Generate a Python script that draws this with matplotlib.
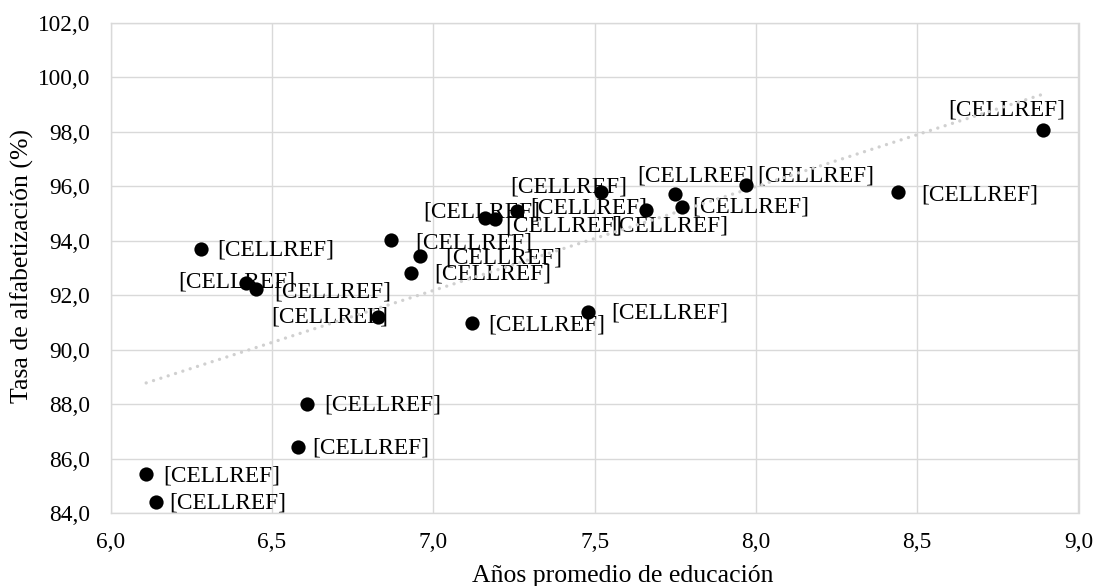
import numpy as np
import matplotlib
matplotlib.use("Agg")
import matplotlib.pyplot as plt
from matplotlib.ticker import FuncFormatter, MultipleLocator

plt.rcParams['font.family'] = ['Liberation Serif', 'DejaVu Serif']

# Data
years_edu = [6.11, 6.14, 6.28, 6.42, 6.45, 6.58, 6.61, 6.83, 6.87, 6.93, 6.96, 7.12,
             7.16, 7.19, 7.26, 7.48, 7.52, 7.66, 7.75, 7.77, 7.97, 8.44, 8.89]
literacy = [85.43, 84.43, 93.70, 92.44, 92.22, 86.42, 88.01, 91.21, 94.03, 92.83, 93.44, 90.97,
            94.83, 94.80, 95.09, 91.38, 95.80, 95.12, 95.71, 95.23, 96.05, 95.78, 98.07]
point_labels = ["[CELLREF]"] * len(years_edu)

x_label = "Años promedio de educación"
y_label = "Tasa de alfabetización (%)"

# Label placement (pixel offsets of label centre from point)
label_offsets = [(76, -2), (72, -1), (75, -1), (-9, 1), (77, -3), (73, -1), (75, -1),
                 (-49, 0), (82, -3), (82, -1), (83, -2), (75, -2), (-3, 6), (69, -7),
                 (72, 3), (82, -1), (-32, 5), (24, -16), (21, 18), (69, 0), (70, 9),
                 (82, -3), (-36, 20)]

W, H = 1098, 586
fig = plt.figure(figsize=(W / 100, H / 100), dpi=100)
left, right, top, bottom = 110.7, 1078.5, 22.8, 513.3
ax = fig.add_axes([left / W, 1 - bottom / H, (right - left) / W, (bottom - top) / H])

grid_c = '#d9d9d9'
ax.set_xlim(6.0, 9.0)
ax.set_ylim(84.0, 102.0)
ax.xaxis.set_major_locator(MultipleLocator(0.5))
ax.yaxis.set_major_locator(MultipleLocator(2.0))
fmt = FuncFormatter(lambda v, p: f"{v:.1f}".replace('.', ','))
ax.xaxis.set_major_formatter(fmt)
ax.yaxis.set_major_formatter(fmt)
ax.grid(True, color=grid_c, linewidth=1.0, zorder=0)
ax.set_axisbelow(True)
for s in ax.spines.values():
    s.set_color(grid_c)
    s.set_linewidth(1.0)
ax.tick_params(axis='both', length=0, labelsize=16.8, colors='#000000')
ax.tick_params(axis='x', pad=13.5)
ax.tick_params(axis='y', pad=15)

# Trendline (linear fit)
xs = np.array(years_edu)
ys = np.array(literacy)
m, b = np.polyfit(xs, ys, 1)
tx = np.array([xs.min(), xs.max()])
ax.plot(tx, m * tx + b, color='#d0d0d0', linewidth=2.4, linestyle=(0, (0.01, 2.3)),
        dash_capstyle='round', zorder=2.5)

ax.scatter(years_edu, literacy, s=105, color='black', zorder=3, linewidths=0)

for xv, yv, lab, (dx, dy) in zip(years_edu, literacy, point_labels, label_offsets):
    ax.annotate(lab, (xv, yv), xytext=(dx, dy), textcoords='offset pixels',
                ha='center', va='center', fontsize=16.8, color='black', zorder=2)

fig.text(623 / W, 1 - 581.7 / H, x_label, ha='center', va='baseline', fontsize=18.5)
fig.text(22 / W, 1 - 266 / H, y_label, ha='center', va='center', rotation=90, fontsize=18.5)

fig.savefig("out.png", dpi=100)
